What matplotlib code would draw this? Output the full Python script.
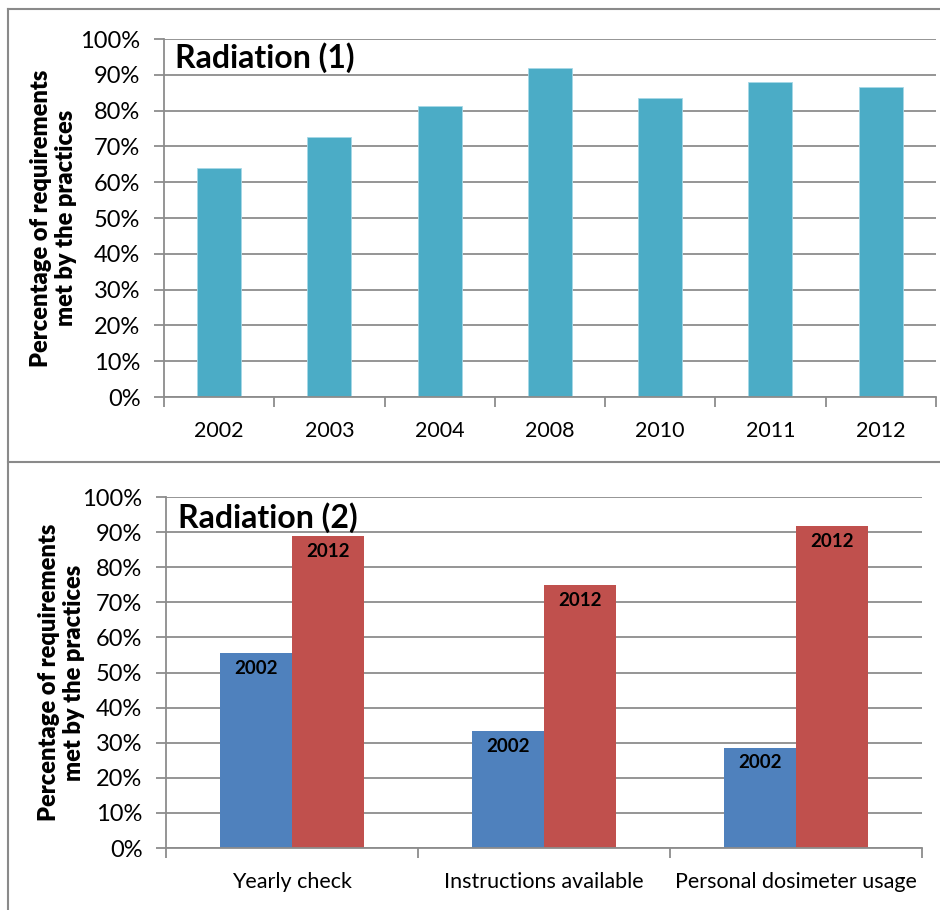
import matplotlib.pyplot as plt
import numpy as np
from matplotlib.lines import Line2D
from matplotlib.ticker import PercentFormatter

plt.rcParams['font.family'] = ['Lato', 'DejaVu Sans']

# Radiation (1): share of requirements met per survey year
years = ['2002', '2003', '2004', '2008', '2010', '2011', '2012']
met_by_year = [64.0, 72.5, 81.2, 92.0, 83.5, 88.0, 86.5]

# Radiation (2): individual requirements, 2002 vs 2012
items = ['Yearly check', 'Instructions available', 'Personal dosimeter usage']
met_2002 = [55.6, 33.3, 28.6]
met_2012 = [88.9, 75.0, 91.7]

GRID = '#8c8c8c'
ylabel = 'Percentage of requirements\nmet by the practices'


def style_axes(ax, n):
    ax.set_ylim(0, 100)
    ax.set_xlim(0, n)
    ax.set_yticks(np.arange(0, 101, 10))
    ax.yaxis.set_major_formatter(PercentFormatter(decimals=0))
    ax.yaxis.grid(True, color=GRID, linewidth=1.3)
    ax.set_axisbelow(True)
    for s in ['top', 'right']:
        ax.spines[s].set_visible(False)
    for s in ['left', 'bottom']:
        ax.spines[s].set_color(GRID)
        ax.spines[s].set_linewidth(1.3)
    # category labels at centres, tick marks at category boundaries
    ax.set_xticks(np.arange(n) + 0.5)
    ax.set_xticks(np.arange(n + 1), minor=True)
    ax.tick_params(axis='x', which='major', length=0, labelsize=15.5, pad=17)
    ax.tick_params(axis='x', which='minor', length=7, color=GRID, width=1.3)
    ax.tick_params(axis='y', length=7, color=GRID, width=1.3, labelsize=17, pad=10)
    ax.set_ylabel(ylabel, fontsize=17, fontweight='heavy', linespacing=1.15)


fig = plt.figure(figsize=(9.4, 9.1), dpi=100)

ax1 = fig.add_axes([0.1745, 0.5637, 0.821, 0.3934])
x1 = np.arange(len(years)) + 0.5
ax1.bar(x1, met_by_year, width=0.4, color='#4BACC6', edgecolor='#a6d8e6', linewidth=0.6)
style_axes(ax1, len(years))
ax1.set_xticklabels(years)
ax1.text(0.014, 0.947, 'Radiation (1)', transform=ax1.transAxes, fontsize=23,
         fontweight='bold', va='center', ha='left')
ax1.yaxis.set_label_coords(-0.113, 0.5)

ax2 = fig.add_axes([0.1766, 0.0681, 0.8044, 0.3857])
x2 = np.arange(len(items)) + 0.5
w = 0.286
b1 = ax2.bar(x2 - w / 2, met_2002, width=w, color='#4F81BD')
b2 = ax2.bar(x2 + w / 2, met_2012, width=w, color='#C0504D')
style_axes(ax2, len(items))
ax2.set_xticklabels(items)
for bars, tag in [(b1, '2002'), (b2, '2012')]:
    for rect in bars:
        ax2.annotate(tag, (rect.get_x() + rect.get_width() / 2, rect.get_height()),
                     xytext=(0, -11), textcoords='offset points', ha='center',
                     va='center', fontsize=13.5, fontweight='bold')
ax2.text(0.016, 0.94, 'Radiation (2)', transform=ax2.transAxes, fontsize=23,
         fontweight='bold', va='center', ha='left')
ax2.yaxis.set_label_coords(-0.107, 0.5)

# outer frame lines around the two panels
frame = dict(color='#8a8a8a', linewidth=1.5, transform=fig.transFigure)
fig.add_artist(Line2D([8 / 940, 1], [1 - 9 / 910] * 2, **frame))
fig.add_artist(Line2D([8 / 940] * 2, [0, 1 - 9 / 910], **frame))
fig.add_artist(Line2D([8 / 940, 1], [1 - 462 / 910] * 2, **frame))

fig.savefig('out.png', dpi=100)
